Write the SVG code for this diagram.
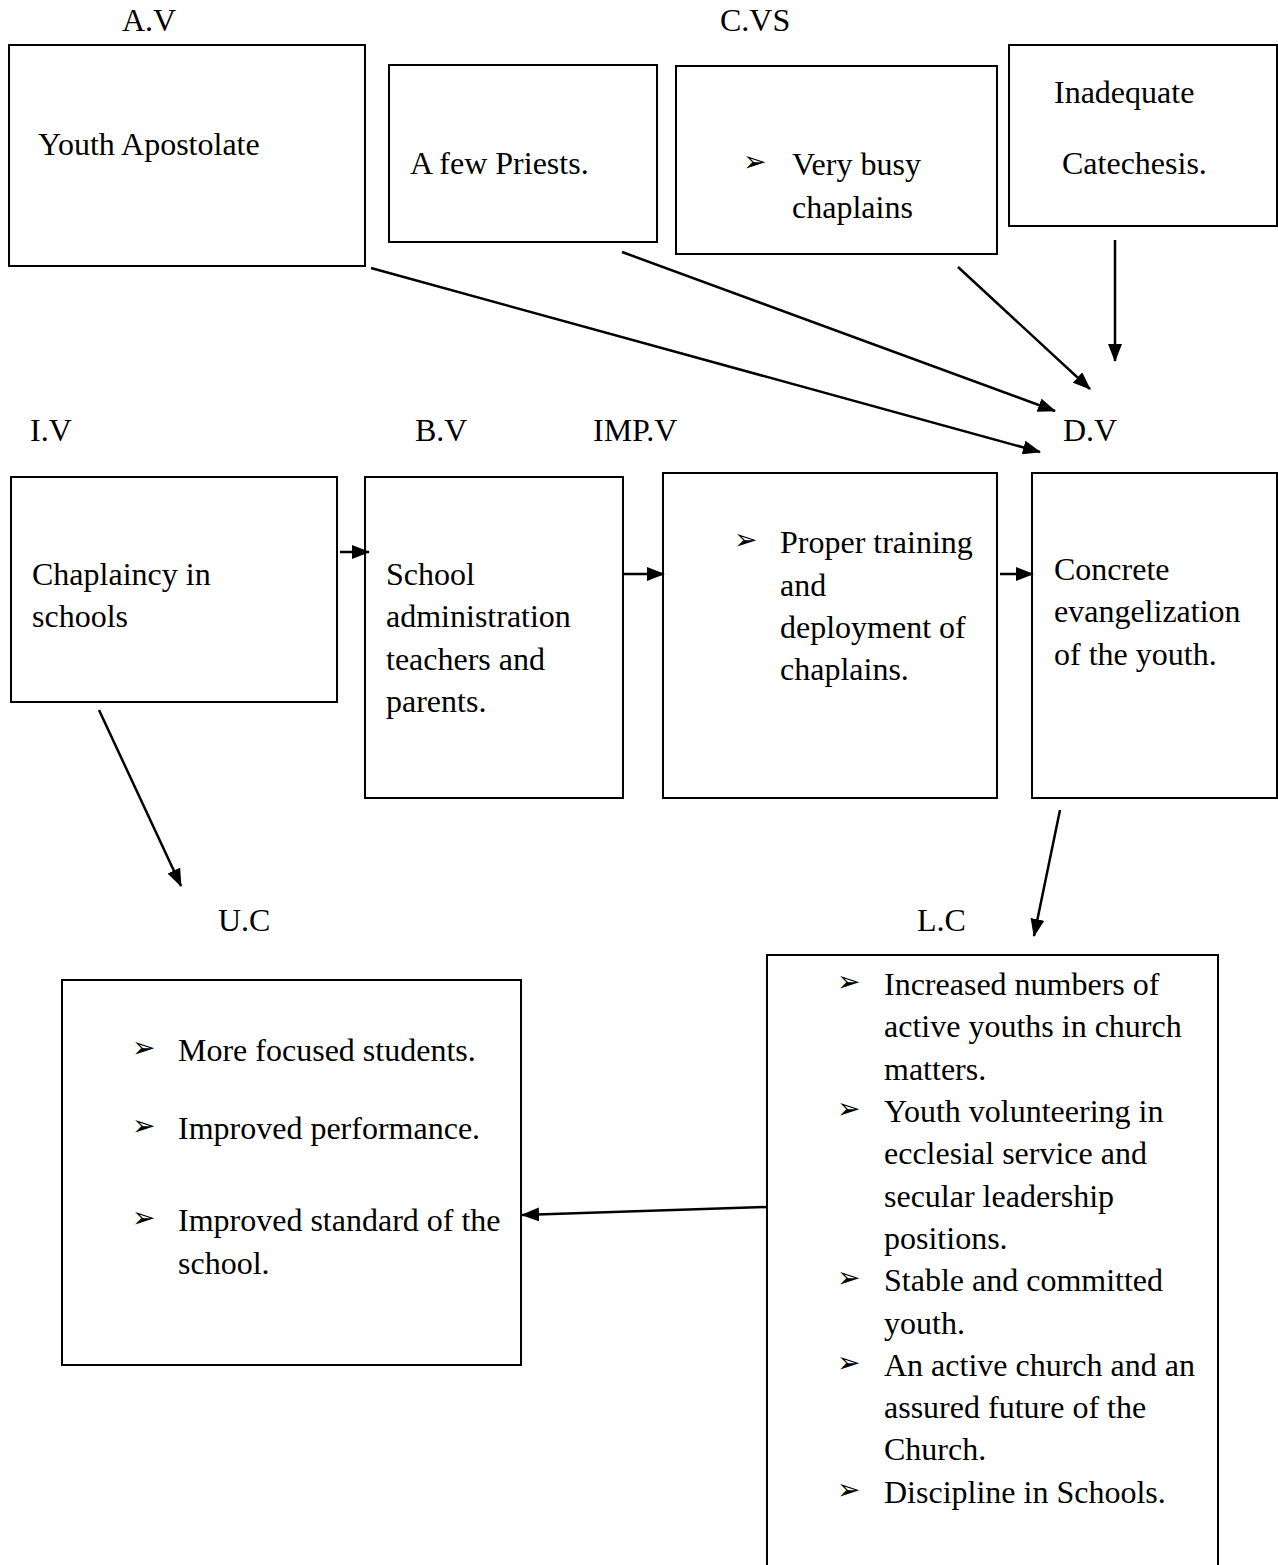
<svg xmlns="http://www.w3.org/2000/svg" width="1278" height="1565" viewBox="0 0 1278 1565">
<defs>
<style>
text{font-family:"Liberation Serif","Times New Roman",serif;font-size:32px;fill:#000}
.b{font-family:"DejaVu Sans",sans-serif;font-size:28px}
rect{fill:#fff;stroke:#000;stroke-width:2}
line{stroke:#000;stroke-width:2.5}
</style>
<marker id="ah" markerUnits="userSpaceOnUse" markerWidth="18" markerHeight="14" refX="17" refY="7" orient="auto">
<path d="M0,0 L18,7 L0,14 Z" fill="#000"/>
</marker>
</defs>
<rect x="0" y="0" width="1278" height="1565" style="stroke:none"/>
<g id="labels">
<text x="122" y="31">A.V</text>
<text x="720" y="31">C.VS</text>
<text x="30" y="441">I.V</text>
<text x="415" y="441">B.V</text>
<text x="593" y="441">IMP.V</text>
<text x="1063" y="441">D.V</text>
<text x="218" y="931">U.C</text>
<text x="917" y="931">L.C</text>
</g>
<g id="youth-apostolate">
<rect x="9" y="45" width="356" height="221"/>
<text x="38" y="155">Youth Apostolate</text>
</g>
<g id="few-priests">
<rect x="389" y="65" width="268" height="177"/>
<text x="410" y="174">A few Priests.</text>
</g>
<g id="busy-chaplains">
<rect x="676" y="66" width="321" height="188"/>
<text class="b" x="743" y="171">➢</text>
<text x="792" y="175">Very busy</text>
<text x="792" y="218">chaplains</text>
</g>
<g id="inadequate-catechesis">
<rect x="1009" y="45" width="268" height="181"/>
<text x="1054" y="103">Inadequate</text>
<text x="1062" y="174">Catechesis.</text>
</g>
<g id="chaplaincy">
<rect x="11" y="477" width="326" height="225"/>
<text x="32" y="585">Chaplaincy in</text>
<text x="32" y="627">schools</text>
</g>
<g id="school-admin">
<rect x="365" y="477" width="258" height="321"/>
<text x="386" y="585">School</text>
<text x="386" y="627">administration</text>
<text x="386" y="670">teachers and</text>
<text x="386" y="712">parents.</text>
</g>
<g id="training">
<rect x="663" y="473" width="334" height="325"/>
<text class="b" x="734" y="549">➢</text>
<text x="780" y="553">Proper training</text>
<text x="780" y="596">and</text>
<text x="780" y="638">deployment of</text>
<text x="780" y="680">chaplains.</text>
</g>
<g id="evangelization">
<rect x="1032" y="473" width="245" height="325"/>
<text x="1054" y="580">Concrete</text>
<text x="1054" y="622">evangelization</text>
<text x="1054" y="665">of the youth.</text>
</g>
<g id="uc-box">
<rect x="62" y="980" width="459" height="385"/>
<text class="b" x="132" y="1057">➢</text>
<text x="178" y="1061">More focused students.</text>
<text class="b" x="132" y="1135">➢</text>
<text x="178" y="1139">Improved performance.</text>
<text class="b" x="132" y="1227">➢</text>
<text x="178" y="1231">Improved standard of the</text>
<text x="178" y="1274">school.</text>
</g>
<g id="lc-box">
<rect x="767" y="955" width="451" height="640"/>
<text class="b" x="837" y="991">➢</text>
<text x="884" y="995">Increased numbers of</text>
<text x="884" y="1037">active youths in church</text>
<text x="884" y="1080">matters.</text>
<text class="b" x="837" y="1118">➢</text>
<text x="884" y="1122">Youth volunteering in</text>
<text x="884" y="1164">ecclesial service and</text>
<text x="884" y="1207">secular leadership</text>
<text x="884" y="1249">positions.</text>
<text class="b" x="837" y="1287">➢</text>
<text x="884" y="1291">Stable and committed</text>
<text x="884" y="1334">youth.</text>
<text class="b" x="837" y="1372">➢</text>
<text x="884" y="1376">An active church and an</text>
<text x="884" y="1418">assured future of the</text>
<text x="884" y="1460">Church.</text>
<text class="b" x="837" y="1499">➢</text>
<text x="884" y="1503">Discipline in Schools.</text>
</g>
<g id="connectors">
<line x1="371" y1="268" x2="1040" y2="452" marker-end="url(#ah)"/>
<line x1="622" y1="252" x2="1055" y2="411" marker-end="url(#ah)"/>
<line x1="958" y1="267" x2="1090" y2="389" marker-end="url(#ah)"/>
<line x1="1115" y1="240" x2="1115" y2="361" marker-end="url(#ah)"/>
<line x1="340" y1="552" x2="369" y2="552" marker-end="url(#ah)"/>
<line x1="623" y1="574" x2="664" y2="574" marker-end="url(#ah)"/>
<line x1="1000" y1="574" x2="1033" y2="574" marker-end="url(#ah)"/>
<line x1="99" y1="710" x2="181" y2="886" marker-end="url(#ah)"/>
<line x1="1060" y1="810" x2="1034" y2="936" marker-end="url(#ah)"/>
<line x1="767" y1="1207" x2="522" y2="1215" marker-end="url(#ah)"/>
</g>
</svg>
